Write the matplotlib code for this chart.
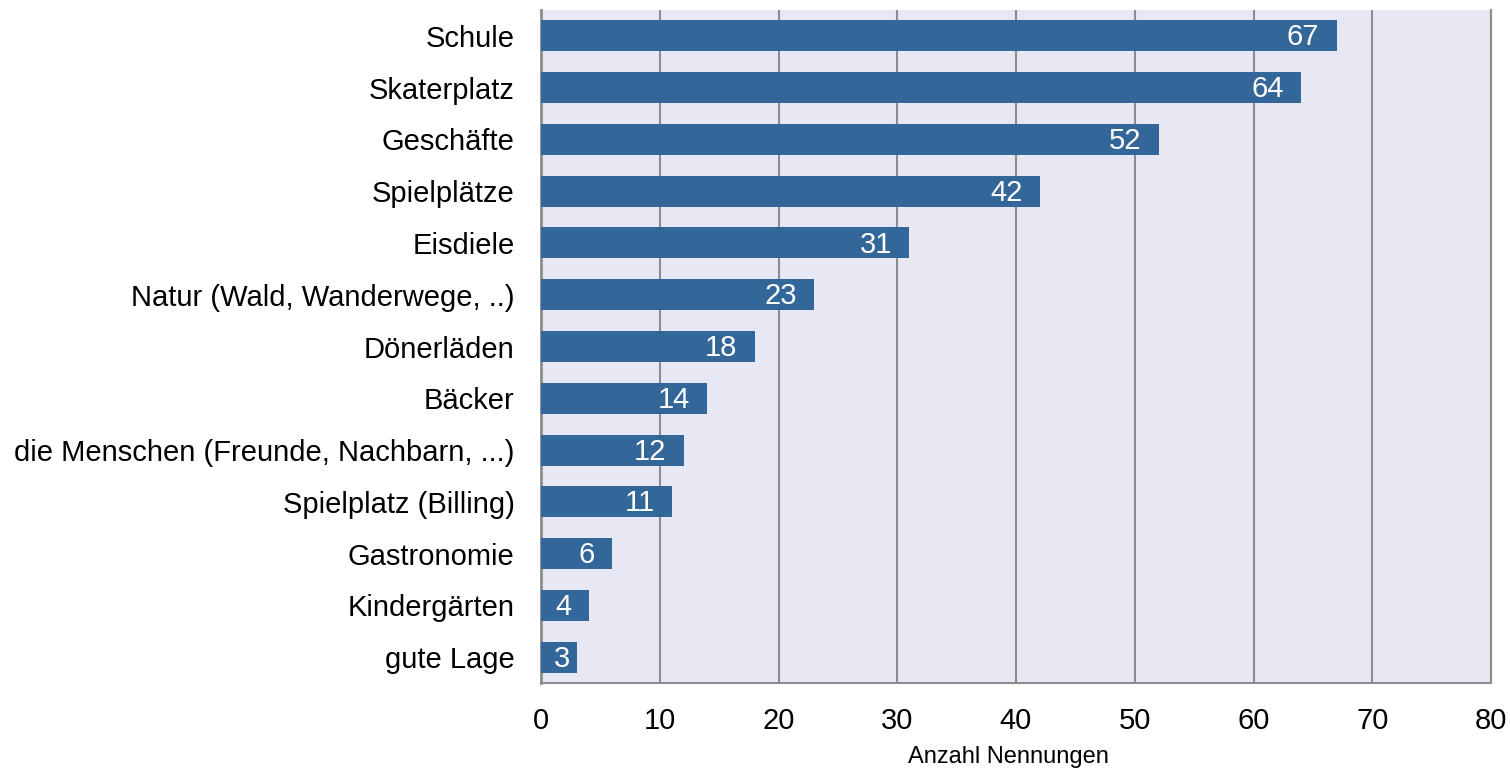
import matplotlib.pyplot as plt

plt.rcParams['font.family'] = ['Liberation Sans', 'DejaVu Sans']

# categories from top to bottom and their counts
categories = ["Schule", "Skaterplatz", "Geschäfte", "Spielplätze", "Eisdiele",
              "Natur (Wald, Wanderwege, ..)", "Dönerläden", "Bäcker",
              "die Menschen (Freunde, Nachbarn, ...)", "Spielplatz (Billing)",
              "Gastronomie", "Kindergärten", "gute Lage"]
counts = [67, 64, 52, 42, 31, 23, 18, 14, 12, 11, 6, 4, 3]
xticks = [0, 10, 20, 30, 40, 50, 60, 70, 80]

fig = plt.figure(figsize=(15.1, 7.69), dpi=100)
ax = fig.add_axes([541 / 1510, 1 - 683 / 769, 950 / 1510, 673 / 769])
ax.set_facecolor('#E8E8F5')

ypos = list(range(len(categories)))
ax.barh(ypos, counts, height=0.6, color='#336699', zorder=3)

# value labels inside the bars
for y, v in zip(ypos, counts):
    ax.text(max(v - 1.45, 2.45), y + 0.03, str(v), ha='right', va='center',
            color='white', fontsize=21, zorder=4)

ax.set_xlim(0, 80)
ax.set_ylim(len(categories) - 0.5, -0.5)
ax.set_xticks(xticks)
ax.set_yticks(ypos)
ax.set_yticklabels(categories)
ax.tick_params(axis='both', length=0, labelsize=21)
ax.tick_params(axis='x', pad=17)
ax.tick_params(axis='y', pad=19)
ax.xaxis.grid(True, color='#8c8c8c', linewidth=1.5, zorder=1)
ax.set_axisbelow(True)

ax.spines['top'].set_visible(False)
for s in ['left', 'bottom', 'right']:
    ax.spines[s].set_color('#8c8c8c')
    ax.spines[s].set_linewidth(1.5)
ax.spines['left'].set_linewidth(2)

# axis title placed under the tick labels
fig.text(1008 / 1510, 1 - 763 / 769, "Anzahl Nennungen", fontsize=17,
         ha='center', va='baseline')

plt.savefig("out.png")
